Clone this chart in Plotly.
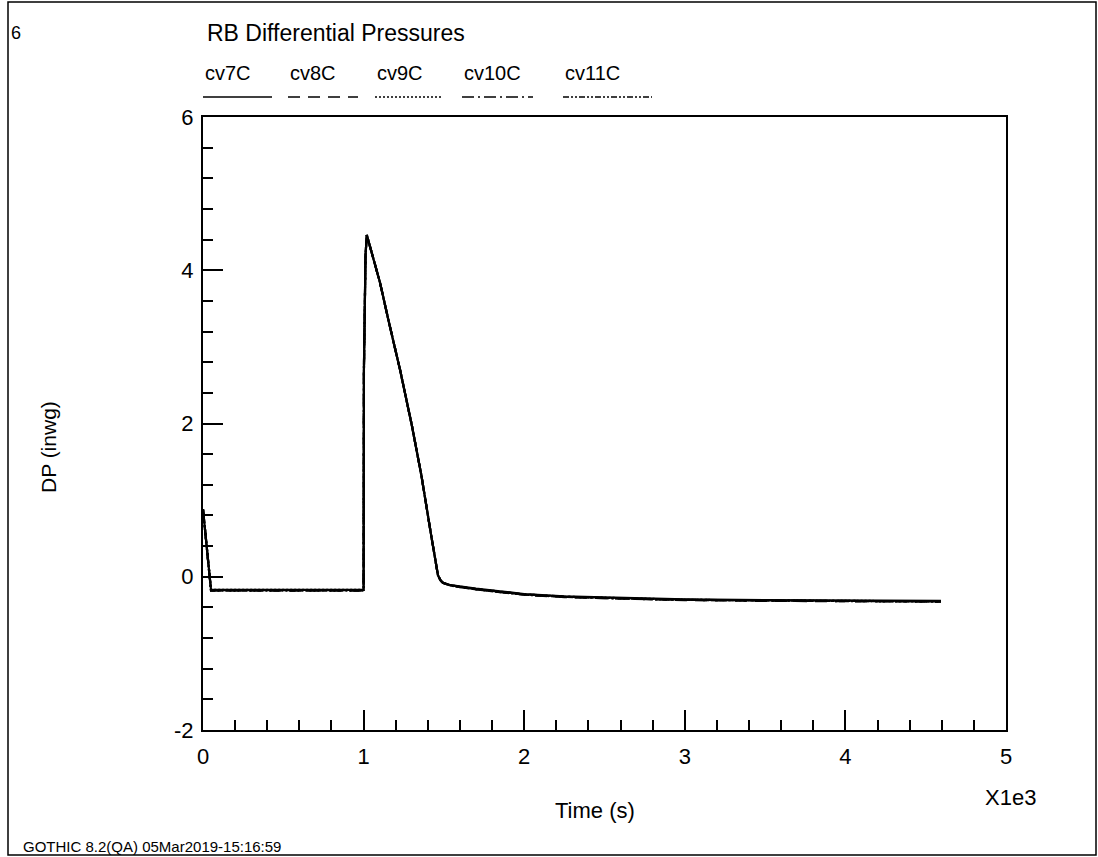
import plotly.graph_objects as go

# ---------------- data ----------------
time_s = [0, 50, 200, 400, 600, 800, 1000, 1002, 1012, 1020, 1060, 1102, 1160, 1227,
          1300, 1360, 1420, 1463, 1480, 1494, 1540, 1600, 1700, 1850, 2000, 2250,
          2500, 2750, 3000, 3500, 4000, 4595]

cv7C = [0.88, -0.17, -0.17, -0.17, -0.17, -0.17, -0.17, 2.70, 4.20, 4.46, 4.16, 3.84, 3.30, 2.70,
        1.98, 1.32, 0.55, 0.02, -0.05, -0.08, -0.11, -0.13, -0.155, -0.19, -0.225, -0.255,
        -0.27, -0.285, -0.295, -0.305, -0.31, -0.316]
cv8C = [0.88, -0.18, -0.18, -0.18, -0.18, -0.18, -0.18, 2.70, 4.20, 4.46, 4.16, 3.84, 3.30, 2.70,
        1.98, 1.32, 0.55, 0.02, -0.05, -0.08, -0.115, -0.135, -0.165, -0.20, -0.235, -0.265,
        -0.28, -0.295, -0.305, -0.315, -0.32, -0.325]
cv9C = [0.88, -0.17, -0.17, -0.17, -0.17, -0.17, -0.17, 2.70, 4.20, 4.46, 4.16, 3.84, 3.30, 2.70,
        1.98, 1.32, 0.55, 0.02, -0.05, -0.08, -0.11, -0.13, -0.16, -0.195, -0.23, -0.26,
        -0.275, -0.29, -0.30, -0.31, -0.315, -0.32]
cv10C = [0.88, -0.175, -0.175, -0.175, -0.175, -0.175, -0.175, 2.70, 4.20, 4.46, 4.16, 3.84, 3.30, 2.70,
         1.98, 1.32, 0.55, 0.02, -0.05, -0.08, -0.11, -0.135, -0.16, -0.195, -0.23, -0.26,
         -0.28, -0.29, -0.30, -0.31, -0.318, -0.322]
cv11C = [0.88, -0.18, -0.18, -0.18, -0.18, -0.18, -0.18, 2.70, 4.20, 4.46, 4.16, 3.84, 3.30, 2.70,
         1.98, 1.32, 0.55, 0.02, -0.05, -0.08, -0.115, -0.135, -0.165, -0.20, -0.235, -0.262,
         -0.28, -0.292, -0.302, -0.312, -0.318, -0.324]

series_names = ["cv7C", "cv8C", "cv9C", "cv10C", "cv11C"]
series_vals = [cv7C, cv8C, cv9C, cv10C, cv11C]
dashes = ["solid", "12px,8px", "2px,2px", "12px,4px,2px,4px", "6px,2px,2px,2px,2px,2px"]

x_tickvals = [0, 1000, 2000, 3000, 4000, 5000]
x_ticktext = ["0", "1", "2", "3", "4", "5"]
y_tickvals = [-2, 0, 2, 4, 6]
y_ticktext = ["-2", "0", "2", "4", "6"]

# ---------------- layout geometry (pixels) ----------------
W, H = 1098, 857
L, R, T, B = 203, 1006, 117, 730
FONT = "Liberation Sans, Arial, sans-serif"


def px(x):
    return (x - L) / (R - L)


def py(y):
    return (B - y) / (B - T)


fig = go.Figure()
for name, vals, d in zip(series_names, series_vals, dashes):
    fig.add_trace(go.Scatter(x=time_s, y=vals, mode="lines", name=name,
                             line=dict(color="black", width=2.2, dash=d),
                             showlegend=False))

annotations = [
    dict(text="6", x=px(9), y=py(33), xanchor="left", yanchor="middle", font=dict(size=18)),
    dict(text="RB Differential Pressures", x=px(205), y=py(33), xanchor="left", yanchor="middle",
         font=dict(size=23)),
    dict(text="Time (s)", x=px(595), y=py(810), xanchor="center", yanchor="middle", font=dict(size=22)),
    dict(text="X1e3", x=px(1010), y=py(797), xanchor="center", yanchor="middle", font=dict(size=22)),
    dict(text="DP (inwg)", x=px(48), y=py(447), xanchor="center", yanchor="middle", textangle=-90,
         font=dict(size=21)),
    dict(text="GOTHIC 8.2(QA) 05Mar2019-15:16:59", x=px(21), y=py(846), xanchor="left",
         yanchor="middle", font=dict(size=15)),
]

legend_x = [(203, 272), (288, 358), (375, 441), (462, 533), (563, 652)]
shapes = [
    dict(type="rect", xref="paper", yref="paper", x0=px(8), x1=px(1096), y0=py(855), y1=py(2),
         line=dict(color="black", width=1.5)),
]
for name, d, (xa, xb) in zip(series_names, dashes, legend_x):
    annotations.append(dict(text=name, x=px(xa), y=py(73), xanchor="left", yanchor="middle",
                            font=dict(size=20)))
    shapes.append(dict(type="line", xref="paper", yref="paper", x0=px(xa), x1=px(xb),
                       y0=py(97), y1=py(97), line=dict(color="black", width=1.5, dash=d)))

for a in annotations:
    a.update(xref="paper", yref="paper", showarrow=False)
    a["font"].update(family=FONT, color="black")

fig.update_layout(
    width=W, height=H, autosize=False,
    margin=dict(l=L, r=W - R, t=T, b=H - B, pad=0),
    paper_bgcolor="white", plot_bgcolor="white",
    font=dict(family=FONT, color="black", size=22),
    annotations=annotations, shapes=shapes,
    xaxis=dict(range=[0, 5000], showgrid=False, zeroline=False, showline=True, linecolor="black",
               linewidth=2, mirror=True, ticks="inside", ticklen=20, tickwidth=1.5, tickcolor="black",
               tickvals=x_tickvals, ticktext=x_ticktext, ticklabelstandoff=6,
               minor=dict(ticks="inside", ticklen=10, tickwidth=1.5, tickcolor="black", dtick=200,
                          tick0=0, showgrid=False),
               tickfont=dict(size=22)),
    yaxis=dict(range=[-2, 6], showgrid=False, zeroline=False, showline=True, linecolor="black",
               linewidth=2, mirror=True, ticks="inside", ticklen=20, tickwidth=1.5, tickcolor="black",
               tickvals=y_tickvals, ticktext=y_ticktext, ticklabelstandoff=3,
               minor=dict(ticks="inside", ticklen=10, tickwidth=1.5, tickcolor="black", dtick=0.4,
                          tick0=-2, showgrid=False),
               tickfont=dict(size=22)),
)

fig.write_html("out.html", config={"displayModeBar": False},
               post_script="document.body.style.margin='0';")
